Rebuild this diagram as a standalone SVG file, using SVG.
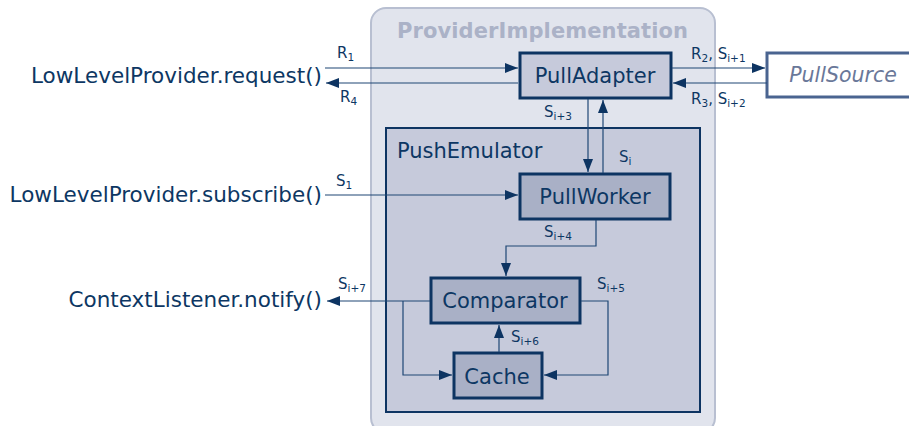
<svg xmlns="http://www.w3.org/2000/svg" width="909" height="426" viewBox="0 0 909 426">
  <style>
    text { font-family: "DejaVu Sans", Verdana, sans-serif; fill: #0d3763; }
    .call { font-size: 21.5px; }
    .box { stroke: #0d3462; stroke-width: 3; }
    .light { fill: #c6cadb; }
    .dark { fill: #a9b0c6; }
    .name { font-size: 21px; text-anchor: middle; }
    .lbl { font-size: 15px; }
    .sub { font-size: 10.5px; }
    .wire { fill: none; stroke: #1f4775; stroke-width: 1.2; }
  </style>
  <defs>
    <marker id="arrow" markerUnits="userSpaceOnUse" markerWidth="14" markerHeight="10" refX="13" refY="5" orient="auto">
      <path d="M0,0 L13,5 L0,10 z" fill="#0d3462"/>
    </marker>
  </defs>

  <!-- outer container -->
  <g id="provider-implementation">
    <rect x="371" y="8" width="344" height="425" rx="15" fill="#e1e4ed" stroke="#b8bfd1" stroke-width="2"/>
    <text x="397" y="38" font-weight="bold" font-size="21" textLength="291" lengthAdjust="spacing" style="fill:#abb2c7">ProviderImplementation</text>
  </g>

  <g id="push-emulator">
    <rect x="386" y="128" width="314" height="284" fill="#c6cadb" stroke="#0d3462" stroke-width="2"/>
    <text x="397" y="158" font-size="21">PushEmulator</text>
  </g>

  <!-- external endpoints -->
  <g id="request"><text class="call" x="322" y="83" text-anchor="end">LowLevelProvider.request()</text></g>
  <g id="subscribe"><text class="call" x="322" y="202" text-anchor="end">LowLevelProvider.subscribe()</text></g>
  <g id="notify"><text class="call" x="322" y="307" text-anchor="end">ContextListener.notify()</text></g>

  <g id="pull-source">
    <rect x="767" y="53" width="150" height="44" fill="#ffffff" stroke="#4a6490" stroke-width="3"/>
    <text x="843" y="82" text-anchor="middle" font-size="20.5" font-style="italic" style="fill:#6a7899">PullSource</text>
  </g>

  <!-- components -->
  <g id="pull-adapter">
    <rect class="box light" x="520" y="53" width="151" height="45"/>
    <text class="name" x="595" y="83">PullAdapter</text>
  </g>
  <g id="pull-worker">
    <rect class="box dark" x="520" y="174" width="150" height="45"/>
    <text class="name" x="595" y="204">PullWorker</text>
  </g>
  <g id="comparator">
    <rect class="box dark" x="431" y="278" width="149" height="45"/>
    <text class="name" x="505" y="308">Comparator</text>
  </g>
  <g id="cache">
    <rect class="box dark" x="454" y="353" width="88" height="45"/>
    <text class="name" x="497" y="384">Cache</text>
  </g>

  <!-- connectors -->
  <g id="connectors">
    <path class="wire" d="M325,68 H518" marker-end="url(#arrow)"/>
    <path class="wire" d="M518,83 H326" marker-end="url(#arrow)"/>
    <path class="wire" d="M672,68 H765" marker-end="url(#arrow)"/>
    <path class="wire" d="M767,83 H673" marker-end="url(#arrow)"/>
    <path class="wire" d="M588,99 V172" marker-end="url(#arrow)"/>
    <path class="wire" d="M603,173 V100" marker-end="url(#arrow)"/>
    <path class="wire" d="M325,195 H518" marker-end="url(#arrow)"/>
    <path class="wire" d="M596,220 V246 H506 V276" marker-end="url(#arrow)"/>
    <path class="wire" d="M430,301 H327" marker-end="url(#arrow)"/>
    <path class="wire" d="M403,301 V375 H452" marker-end="url(#arrow)"/>
    <path class="wire" d="M581,301 H608 V375 H544" marker-end="url(#arrow)"/>
    <path class="wire" d="M499,352 V325" marker-end="url(#arrow)"/>

    <text class="lbl" x="337" y="58">R<tspan class="sub" dy="3">1</tspan></text>
    <text class="lbl" x="340" y="102">R<tspan class="sub" dy="3">4</tspan></text>
    <text class="lbl" x="691" y="59">R<tspan class="sub" dy="3">2</tspan><tspan dy="-3">, S</tspan><tspan class="sub" dy="3">i+1</tspan></text>
    <text class="lbl" x="691" y="104">R<tspan class="sub" dy="3">3</tspan><tspan dy="-3">, S</tspan><tspan class="sub" dy="3">i+2</tspan></text>
    <text class="lbl" x="544" y="117">S<tspan class="sub" dy="3">i+3</tspan></text>
    <text class="lbl" x="619" y="162">S<tspan class="sub" dy="3">i</tspan></text>
    <text class="lbl" x="336" y="186">S<tspan class="sub" dy="3">1</tspan></text>
    <text class="lbl" x="544" y="237">S<tspan class="sub" dy="3">i+4</tspan></text>
    <text class="lbl" x="338" y="289">S<tspan class="sub" dy="3">i+7</tspan></text>
    <text class="lbl" x="597" y="289">S<tspan class="sub" dy="3">i+5</tspan></text>
    <text class="lbl" x="511" y="342">S<tspan class="sub" dy="3">i+6</tspan></text>
  </g>
</svg>
